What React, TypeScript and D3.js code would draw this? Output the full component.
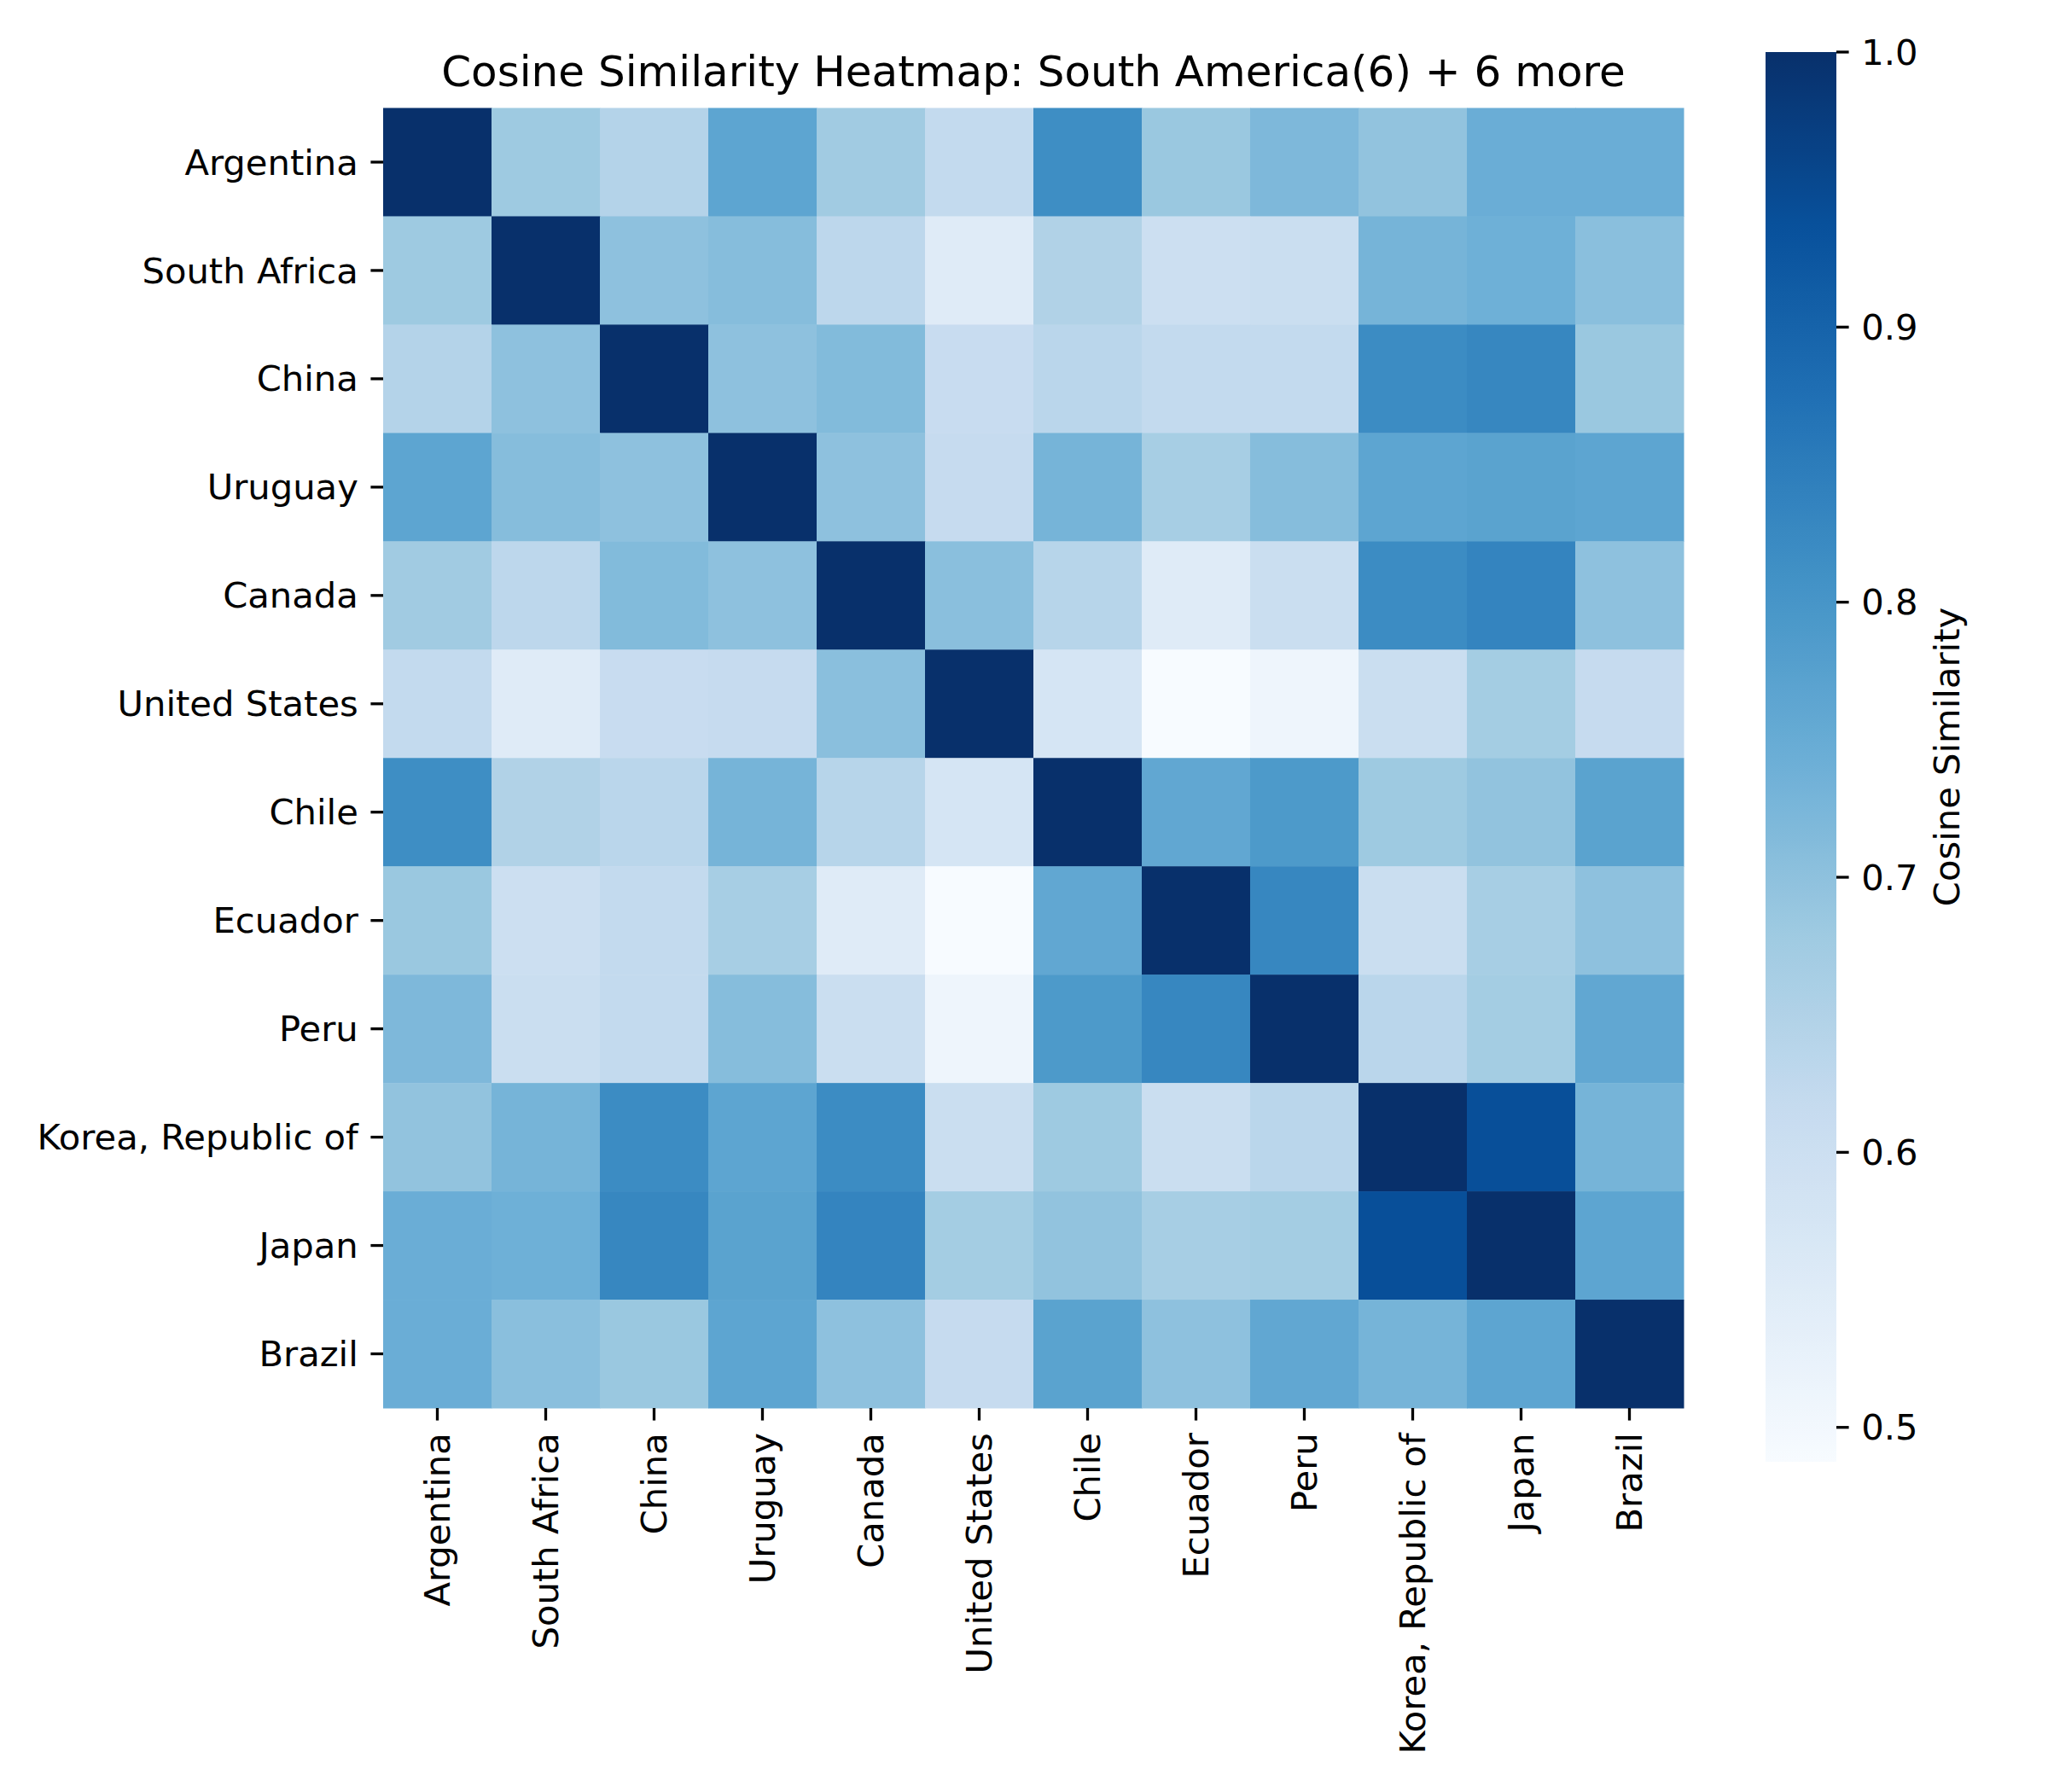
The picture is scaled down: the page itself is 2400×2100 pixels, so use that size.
import React from "react";
import * as d3 from "d3";

const countries = [
  "Argentina", "South Africa", "China", "Uruguay", "Canada", "United States",
  "Chile", "Ecuador", "Peru", "Korea, Republic of", "Japan", "Brazil",
];

const rowArgentina = [1.0, 0.68, 0.645, 0.765, 0.675, 0.62, 0.815, 0.685, 0.72, 0.695, 0.745, 0.745];
const rowSouthAfrica = [0.68, 1.0, 0.70, 0.71, 0.63, 0.55, 0.65, 0.60, 0.605, 0.73, 0.74, 0.705];
const rowChina = [0.645, 0.70, 1.0, 0.70, 0.715, 0.61, 0.635, 0.62, 0.62, 0.82, 0.83, 0.685];
const rowUruguay = [0.765, 0.71, 0.70, 1.0, 0.70, 0.615, 0.73, 0.665, 0.71, 0.765, 0.77, 0.765];
const rowCanada = [0.675, 0.63, 0.715, 0.70, 1.0, 0.705, 0.64, 0.55, 0.605, 0.82, 0.835, 0.70];
const rowUnitedStates = [0.62, 0.55, 0.61, 0.615, 0.705, 1.0, 0.575, 0.4875, 0.51, 0.605, 0.67, 0.615];
const rowChile = [0.815, 0.65, 0.635, 0.73, 0.64, 0.575, 1.0, 0.76, 0.79, 0.68, 0.695, 0.77];
const rowEcuador = [0.685, 0.60, 0.62, 0.665, 0.55, 0.4875, 0.76, 1.0, 0.83, 0.605, 0.665, 0.70];
const rowPeru = [0.72, 0.605, 0.62, 0.71, 0.605, 0.51, 0.79, 0.83, 1.0, 0.635, 0.67, 0.76];
const rowKorea = [0.695, 0.73, 0.82, 0.765, 0.82, 0.605, 0.68, 0.605, 0.635, 1.0, 0.94, 0.73];
const rowJapan = [0.745, 0.74, 0.83, 0.77, 0.835, 0.67, 0.695, 0.665, 0.67, 0.94, 1.0, 0.765];
const rowBrazil = [0.745, 0.705, 0.685, 0.765, 0.70, 0.615, 0.77, 0.70, 0.76, 0.73, 0.765, 1.0];

const matrix = [
  rowArgentina, rowSouthAfrica, rowChina, rowUruguay, rowCanada, rowUnitedStates,
  rowChile, rowEcuador, rowPeru, rowKorea, rowJapan, rowBrazil,
];

const colorbarTicks = [0.5, 0.6, 0.7, 0.8, 0.9, 1.0];
const titleText = "Cosine Similarity Heatmap: South America(6) + 6 more";
const colorbarLabel = "Cosine Similarity";

const bluesStops = ["#f7fbff", "#deebf7", "#c6dbef", "#9ecae1", "#6baed6", "#4292c6", "#2171b5", "#08519c", "#08306b"];

export default function App() {
  const W = 2400, H = 2100;
  const font = "DejaVu Sans, sans-serif";
  const fs = 41.7;

  const hx0 = 449, hx1 = 1973, hy0 = 126.5, hy1 = 1650;
  const x = d3.scaleBand<string>().domain(countries).range([hx0, hx1]);
  const y = d3.scaleBand<string>().domain(countries).range([hy0, hy1]);

  const allVals = matrix.flat();
  const vmin = d3.min(allVals) as number;
  const vmax = d3.max(allVals) as number;

  const cmapT = d3.scaleLinear<string>()
    .domain(d3.range(9).map((i) => i / 8))
    .range(bluesStops)
    .interpolate(d3.interpolateRgb)
    .clamp(true);
  const norm = d3.scaleLinear().domain([vmin, vmax]).range([0, 1]);
  const color = (v: number) => cmapT(norm(v));

  const cbx0 = 2069, cbx1 = 2152, cby0 = 61, cby1 = 1713;
  const cbScale = d3.scaleLinear().domain([vmin, vmax]).range([cby1, cby0]);
  const tickLen = 14.6;

  const gradStops = d3.range(0, 101).map((i) => i / 100);

  return (
    <svg width={W} height={H} style={{ position: "absolute", left: 0, top: 0, background: "#fff" }}>
      <defs>
        <linearGradient id="cbgrad" x1="0" y1="1" x2="0" y2="0">
          {gradStops.map((t) => (
            <stop key={t} offset={`${t * 100}%`} stopColor={cmapT(t)} />
          ))}
        </linearGradient>
      </defs>
      <rect x={0} y={0} width={W} height={H} fill="#fff" />

      <text x={(hx0 + hx1) / 2} y={101} textAnchor="middle" fontFamily={font} fontSize={50} fill="#000">
        {titleText}
      </text>

      {matrix.map((row, i) =>
        row.map((v, j) => (
          <rect
            key={`${i}-${j}`}
            x={x(countries[j])}
            y={y(countries[i])}
            width={x.bandwidth() + 0.5}
            height={y.bandwidth() + 0.5}
            fill={color(v)}
          />
        ))
      )}

      {countries.map((c) => {
        const cy = (y(c) as number) + y.bandwidth() / 2;
        return (
          <g key={`y-${c}`}>
            <line x1={hx0 - tickLen} x2={hx0} y1={cy} y2={cy} stroke="#000" strokeWidth={3.3} />
            <text x={hx0 - tickLen - 14.6} y={cy} dy="0.35em" textAnchor="end" fontFamily={font} fontSize={fs} fill="#000">
              {c}
            </text>
          </g>
        );
      })}

      {countries.map((c) => {
        const cx = (x(c) as number) + x.bandwidth() / 2;
        const ty = hy1 + tickLen + 14.6;
        return (
          <g key={`x-${c}`}>
            <line x1={cx} x2={cx} y1={hy1} y2={hy1 + tickLen} stroke="#000" strokeWidth={3.3} />
            <text
              transform={`translate(${cx},${ty}) rotate(-90)`}
              dy="0.35em"
              textAnchor="end"
              fontFamily={font}
              fontSize={fs}
              fill="#000"
            >
              {c}
            </text>
          </g>
        );
      })}

      <rect x={cbx0} y={cby0} width={cbx1 - cbx0} height={cby1 - cby0} fill="url(#cbgrad)" />
      {colorbarTicks.map((t) => {
        const ty = cbScale(t);
        return (
          <g key={`cb-${t}`}>
            <line x1={cbx1} x2={cbx1 + tickLen} y1={ty} y2={ty} stroke="#000" strokeWidth={3.3} />
            <text x={cbx1 + tickLen + 14.6} y={ty} dy="0.35em" fontFamily={font} fontSize={fs} fill="#000">
              {t.toFixed(1)}
            </text>
          </g>
        );
      })}
      <text
        transform={`translate(2296,${(cby0 + cby1) / 2}) rotate(-90)`}
        textAnchor="middle"
        fontFamily={font}
        fontSize={fs}
        fill="#000"
      >
        {colorbarLabel}
      </text>
    </svg>
  );
}
